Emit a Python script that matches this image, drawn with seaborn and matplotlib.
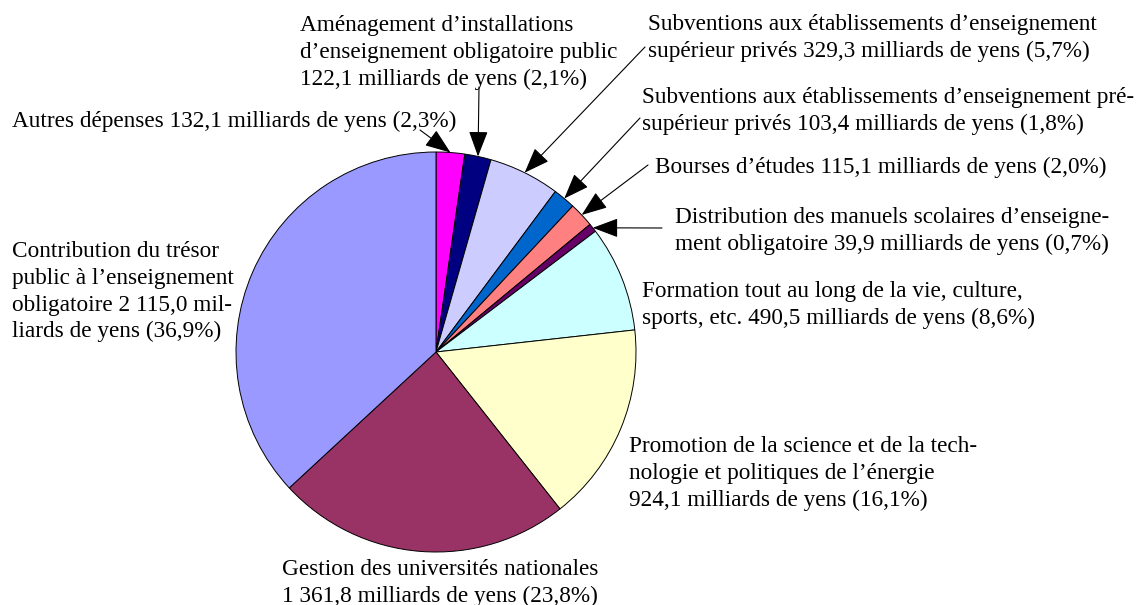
import numpy as np
import matplotlib
matplotlib.use("Agg")
import matplotlib.pyplot as plt
import seaborn as sns

# ---- data (milliards de yens), clockwise from 12 o'clock ----
categories = [
    "Autres dépenses",
    "Aménagement d'installations d'enseignement obligatoire public",
    "Subventions aux établissements d'enseignement supérieur privés",
    "Subventions aux établissements d'enseignement pré-supérieur privés",
    "Bourses d'études",
    "Distribution des manuels scolaires d'enseignement obligatoire",
    "Formation tout au long de la vie, culture, sports, etc.",
    "Promotion de la science et de la technologie et politiques de l'énergie",
    "Gestion des universités nationales",
    "Contribution du trésor public à l'enseignement obligatoire",
]
values = [132.1, 122.1, 329.3, 103.4, 115.1, 39.9, 490.5, 924.1, 1361.8, 2115.0]
colors = ["#FF00FF", "#000080", "#CCCCFF", "#0066CC", "#FF8080",
          "#660066", "#CCFFFF", "#FFFFCC", "#993366", "#9999FF"]
labels = [
    "Autres dépenses 132,1 milliards de yens (2,3%)",
    "Aménagement d’installations\nd’enseignement obligatoire public\n122,1 milliards de yens (2,1%)",
    "Subventions aux établissements d’enseignement\nsupérieur privés 329,3 milliards de yens (5,7%)",
    "Subventions aux établissements d’enseignement pré-\nsupérieur privés 103,4 milliards de yens (1,8%)",
    "Bourses d’études 115,1 milliards de yens (2,0%)",
    "Distribution des manuels scolaires d’enseigne-\nment obligatoire 39,9 milliards de yens (0,7%)",
    "Formation tout au long de la vie, culture,\nsports, etc. 490,5 milliards de yens (8,6%)",
    "Promotion de la science et de la tech-\nnologie et politiques de l’énergie\n924,1 milliards de yens (16,1%)",
    "Gestion des universités nationales\n1 361,8 milliards de yens (23,8%)",
    "Contribution du trésor\npublic à l’enseignement\nobligatoire 2 115,0 mil-\nliards de yens (36,9%)",
]

# ---- layout (pixel coordinates, origin top-left) ----
W, H = 1139, 605
PIE_CX, PIE_CY, PIE_R = 436, 352, 200
# (text left x, first baseline y, arrow start or None)
label_pos = [
    (12, 127, (420, 130)),
    (300, 31, (479, 87)),
    (648, 30, (645, 47)),
    (642, 103, (640, 118)),
    (655, 173, (648, 165)),
    (675, 223, (662, 228)),
    (642, 297, None),
    (629, 452, None),
    (282, 575, None),
    (12, 257, None),
]
LINE_STEP = 26.8
FS = 16.75

sns.set_theme(style="white")
plt.rcParams['font.family'] = ['Liberation Serif', 'DejaVu Serif']

fig = plt.figure(figsize=(W / 100, H / 100), dpi=100)
fig.patch.set_facecolor("white")
ax = fig.add_axes([0, 0, 1, 1])

wedges, _ = ax.pie(values, colors=colors, startangle=90, counterclock=False,
                   center=(PIE_CX, H - PIE_CY), radius=PIE_R,
                   wedgeprops=dict(edgecolor="black", linewidth=0.7))
ax.set_xlim(0, W)
ax.set_ylim(0, H)
ax.set_aspect("equal")
ax.axis("off")

for wedge, text, (tx, ty, astart) in zip(wedges, labels, label_pos):
    for i, line in enumerate(text.split("\n")):
        ax.text(tx, H - (ty + i * LINE_STEP), line, ha="left", va="baseline",
                fontsize=FS, color="black")
    if astart is not None:
        mid = np.deg2rad((wedge.theta1 + wedge.theta2) / 2)
        cx, cy = wedge.center
        tip = (cx + wedge.r * np.cos(mid), cy + wedge.r * np.sin(mid))
        ax.annotate("", xy=tip, xytext=(astart[0], H - astart[1]),
                    arrowprops=dict(arrowstyle="-|>,head_length=0.8,head_width=0.3",
                                    mutation_scale=20, lw=0.8, color="black",
                                    shrinkA=0, shrinkB=0))

fig.savefig("out.png", dpi=100, facecolor="white")
